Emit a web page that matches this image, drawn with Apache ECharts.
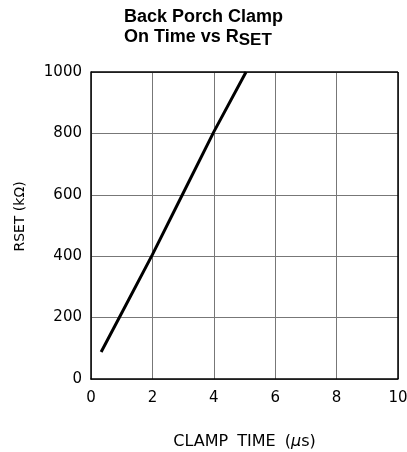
<!DOCTYPE html>
<html><head><meta charset="utf-8">
<script src="https://cdn.jsdelivr.net/npm/echarts@6/dist/echarts.min.js"></script>
<style>html,body{margin:0;padding:0;background:#fff}#c{width:407px;height:452px}</style>
</head><body><div id="c"></div>
<script>
const clampTime = [0.33, 1.0, 2.0, 3.0, 4.0, 5.05];
const rset = [88, 215, 405, 605, 805, 1000];
const xTicks = [0, 2, 4, 6, 8, 10];
const yTicks = [0, 200, 400, 600, 800, 1000];

const chart = echarts.init(document.getElementById('c'), null, {renderer: 'canvas'});
const F = 'Liberation Sans, Arial, sans-serif';
const D = 'DejaVu Sans, sans-serif';
chart.setOption({
  animation: false,
  backgroundColor: '#fff',
  title: {
    text: '{b|Back Porch Clamp}\n{b|On Time vs R}{s|SET}',
    left: 119, top: 2, textAlign: 'left',
    textStyle: {
      align: 'left',
      rich: {
        b: {fontFamily: F, fontWeight: 'bold', fontSize: 18, color: '#000', lineHeight: 20, align: 'left'},
        s: {fontFamily: F, fontWeight: 'bold', fontSize: 17, color: '#000', padding: [7, 0, 0, 0], lineHeight: 20}
      }
    }
  },
  grid: {left: 91, right: 9, top: 72, bottom: 73, containLabel: false, outerBoundsMode: 'none'},
  xAxis: {
    type: 'value', min: 0, max: 10, interval: 2,
    name: '{t|CLAMP} {g|TIME} {g|(}{m|μ}{t|s)}', nameLocation: 'middle', nameGap: 55,
    nameTextStyle: {fontFamily: D, fontSize: 16, color: '#000', verticalAlign: 'top', rich: {
      t: {fontFamily: D, fontSize: 16, color: '#000'},
      g: {fontFamily: D, fontSize: 16, color: '#000', padding: [0, 0, 0, 4]},
      m: {fontFamily: D, fontStyle: 'italic', fontSize: 16, color: '#000'}
    }},
    axisLine: {show: true, lineStyle: {color: '#000', width: 1.5}},
    axisTick: {show: false},
    axisLabel: {fontFamily: D, fontSize: 15, color: '#000', margin: 12,
      formatter: v => xTicks.includes(v) ? String(v) : ''},
    splitLine: {show: true, lineStyle: {color: '#777', width: 1}}
  },
  yAxis: {
    type: 'value', min: 0, max: 1000, interval: 200,
    name: 'RSET (kΩ)', nameLocation: 'middle', nameGap: 64, nameRotate: 90,
    nameTextStyle: {fontFamily: D, fontSize: 14, color: '#000', padding: [0, 0, 0, 18]},
    axisLine: {show: true, lineStyle: {color: '#000', width: 1.5}},
    axisTick: {show: false},
    axisLabel: {fontFamily: D, fontSize: 15, color: '#000', margin: 9,
      formatter: v => yTicks.includes(v) ? String(v) : ''},
    splitLine: {show: true, lineStyle: {color: '#777', width: 1}}
  },
  series: [
    {type: 'line', data: clampTime.map((x, i) => [x, rset[i]]), showSymbol: false, smooth: false,
     lineStyle: {color: '#000', width: 3}},
    {type: 'line', data: [], markLine: {silent: true, symbol: 'none', label: {show: false},
      lineStyle: {color: '#000', width: 1.5, type: 'solid'},
      data: [[{coord: [0, 1000]}, {coord: [10, 1000]}], [{coord: [10, 0]}, {coord: [10, 1000]}]]}}
  ]
});
</script></body></html>
